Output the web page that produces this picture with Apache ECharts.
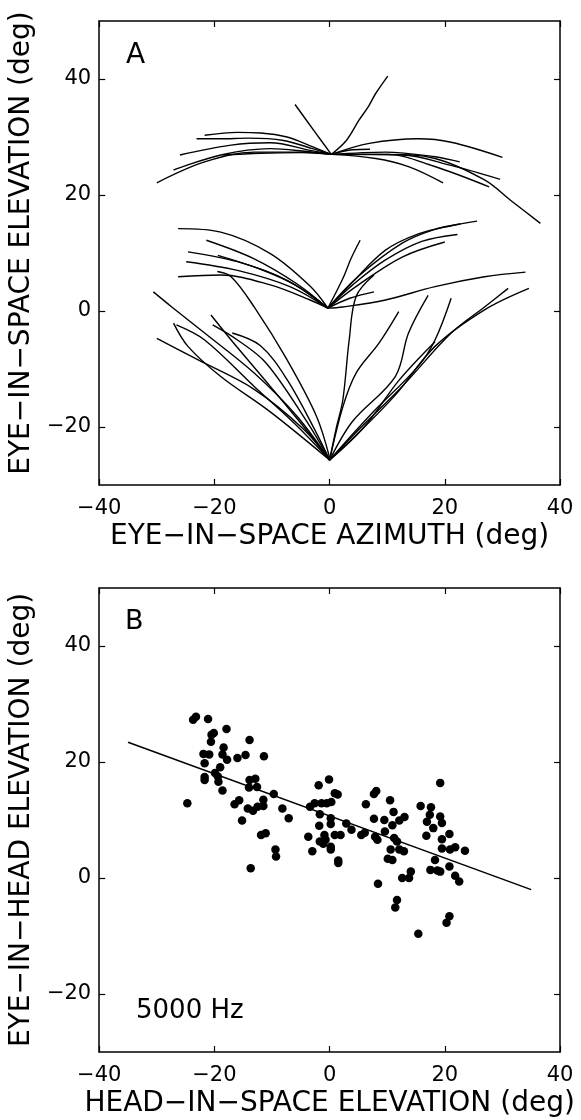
<!DOCTYPE html>
<html><head><meta charset="utf-8">
<script src="https://cdn.jsdelivr.net/npm/echarts@6/dist/echarts.min.js"></script>
<style>html,body{margin:0;padding:0;background:#fff}#c{width:581px;height:1120px}</style>
</head><body><div id="c"></div>
<script>
// ---- Panel A: eye-in-space trajectories (azimuth, elevation) ----
const curvesUpper = [
  [[0.3,27],[2.9,29.4],[5.1,32.9],[6.7,35.2],[8,37.5],[10.1,40.5]],
  [[0.3,27],[-2.5,30.8],[-6,35.6]],
  [[0.3,27],[-2.9,28.3],[-7.4,30],[-12,30.7],[-16,30.8],[-21.7,30.3]],
  [[0.3,27],[-3,28],[-8,29.4],[-14,29.8],[-19,29.7],[-23.1,29.7]],
  [[0.3,27],[-3.4,27.7],[-10.3,29],[-17.1,28.6],[-26,26.9]],
  [[0.3,27],[-4,27.5],[-10.3,28],[-18.9,26.9],[-27.1,24.3]],
  [[0.3,27],[-4.6,27.4],[-13.1,27.4],[-21.7,25.7],[-30,22.1]],
  [[0.3,27],[-5,27.3],[-12,27.2],[-18.6,26.9]],
  [[0.3,27],[6.9,28.9],[15.4,29.7],[21.1,29.1],[30,26.5]],
  [[0.3,27],[9.7,27.4],[18.3,26.6],[22.6,25.7]],
  [[0.3,27],[12.6,26.9],[21.1,25.1],[29.6,22.7]],
  [[0.3,27],[10,27],[18,25],[27.7,21.4]],
  [[0.3,27],[8,26.3],[13.7,24.9],[19.7,22.1]],
  [[0.3,27],[10,27],[18.3,26.3],[26.9,22.6],[31.4,19.1],[36.6,15.1]],
  [[0.3,27],[4,27.8],[7,27.9]]
];
const curvesMiddle = [
  [[-0.3,0.5],[-3.4,4.3],[-10.3,9.9],[-18.9,13.6],[-26.3,14.2]],
  [[-0.3,0.5],[-5.7,4.7],[-13.1,9],[-21.4,12.2]],
  [[-0.3,0.5],[-7.4,5.3],[-16,8.5],[-24.6,10.2]],
  [[-0.3,0.5],[-6.9,4.2],[-16,7],[-24.9,8.5]],
  [[-0.3,0.5],[-3.4,1.9],[-10.3,4.5],[-18.9,6.2],[-26.3,5.9]],
  [[-0.3,0.5],[-6,4.5],[-12,7.2],[-19.4,9.6]],
  [[-0.3,0.5],[4,5],[9.7,10.5],[15.4,13.3],[21.1,14.7],[25.6,15.5]],
  [[-0.3,0.5],[5,6],[12.6,11.7],[18,14],[22.7,15]],
  [[-0.3,0.5],[4,4.5],[9.7,8.8],[16,12],[22.2,13.2]],
  [[-0.3,0.5],[5,4.5],[12.6,9.3],[20,11.9]],
  [[-0.3,0.5],[2.3,0.7],[9.7,1.9],[18.3,4.2],[26.9,5.9],[34,6.7]],
  [[-0.3,0.5],[3.5,2.2],[7.7,3.3]],
  [[-0.3,0.5],[2.3,5.6],[3.7,9],[5.3,12.2]]
];
const curvesLower = [
  [[0,-25.7],[-5.7,-18.1],[-13.1,-10.7],[-21.7,-3.8],[-27.4,0.7],[-30.6,3.3]],
  [[0,-25.7],[-4.6,-20.3],[-13.1,-13.5],[-22.9,-8.4],[-30,-4.7]],
  [[0,-25.7],[-10.3,-17.4],[-18.9,-11.3],[-24.6,-6.1],[-27.1,-2.1]],
  [[0,-25.7],[-6,-19.5],[-13.1,-13],[-21.7,-5],[-26.6,-2.4]],
  [[0,-25.7],[-3.4,-21.3],[-10.3,-13],[-17.1,-5],[-20.6,-0.7]],
  [[0,-25.7],[-2.3,-21],[-7.4,-11.8],[-12,-6],[-16.9,-3.8]],
  [[0,-25.7],[-4,-19],[-11,-9],[-16,-5],[-20.3,-2.4]],
  [[0,-25.3],[-2.3,-18.1],[-7.4,-8.4],[-13.1,0.7],[-17.1,5.9],[-19.5,6.8]],
  [[0,-25.7],[2.3,-16.5],[4.6,-10.7],[8.6,-5.5],[12,-0.1]],
  [[0,-25.7],[4,-19],[11.4,-11.3],[13.7,-3.8],[17.1,2.7]],
  [[0,-25.7],[6.9,-18.1],[15.4,-9.5],[18.3,-5],[21.1,2.2]],
  [[0,-25.7],[5,-20.5],[12.6,-13],[21.1,-3.8],[26.9,0.7],[31,3.9]],
  [[0,-25.7],[4.5,-21.5],[11.4,-14.5],[18.3,-6.1],[26.9,0.2],[34.6,3.9]],
  [[0,-25.7],[6,-20],[12,-12],[18.3,-5.3]],
  [[0,-25.7],[1.2,-20],[2.3,-15.3],[3.4,-5],[4.6,2.5],[7.7,6.2]]
];

// ---- Panel B: head-in-space elevation vs eye-in-head elevation ----
const scatterB = [
  [-23.7,27.3],[-23.2,27.8],[-21.1,27.4],[-20.5,24.7],[-20.1,25],[-17.9,25.7],[-20.6,23.5],
  [-13.9,23.8],[-21.9,21.4],[-20.9,21.3],[-18.4,22.5],[-18.6,21.3],[-17.8,20.4],[-16,20.7],
  [-14.6,21.2],[-11.4,21],[-21.7,19.8],[-19,19.1],[-19.9,18.1],[-19.4,17.5],[-21.7,16.9],
  [-21.7,17.4],[-19.3,16.6],[-18.6,15.1],[-13.9,16.9],[-12.9,17.1],[-14,15.6],[-12.6,15.7],
  [-9.7,14.5],[-24.7,12.9],[-16.5,12.7],[-15.7,13.4],[-14.2,12],[-13.3,11.6],[-12.5,12.3],
  [-11.5,12.4],[-11.5,13.5],[-8.2,12],[-7.1,10.3],[-15.2,9.9],[-11.9,7.4],[-11.1,7.7],
  [-9.4,4.9],[-9.3,3.7],[-13.7,1.7],
  [-1.9,16],[-0.1,17],[0.9,14.6],[1.4,14.4],[-3.4,12.3],[-2.6,12.9],[-1.4,12.9],[-0.5,12.9],
  [0.3,13.1],[-1.7,11],[0.2,10.3],[0.2,9.3],[2.9,9.4],[-1.8,9],[3.8,8.3],[-3.7,7.1],
  [-0.9,7.4],[-0.7,6.6],[0.9,7.4],[1.9,7.4],[-1.7,6.3],[-1.1,5.9],[0.2,5.4],[0.2,4.9],
  [-3,4.6],[1.5,3],[1.5,2.6],
  [5.5,7.4],[6.1,7.8],[6.3,12.7],[7.7,14.5],[8.1,15],[7.7,10.2],[9.5,10],[10.5,13.4],
  [11.1,11.4],[10.9,9.1],[12.1,9.9],[13,10.5],[9.6,8],[7.9,7.1],[8.3,6.6],[11.2,6.9],
  [11.7,6.3],[10.6,4.9],[12.1,4.9],[12.9,4.6],[10.1,3.3],[10.9,3.1],[14.1,1.1],[13.8,0],
  [12.6,0],[8.4,-1],[11.7,-3.8],[11.4,-5.1],[15.4,-9.6],
  [15.8,12.4],[17.6,12.2],[17.4,10.9],[16.9,9.7],[19.2,10.6],[19.5,9.5],[18,8.6],[16.8,7.3],
  [19.2,16.4],[20.8,7.6],[19.5,6.7],[19.5,5.1],[20.9,4.9],[21.8,5.3],[23.5,4.7],[18.3,3.1],
  [17.5,1.4],[18.7,1.3],[19.2,1.1],[20.8,2],[21.8,0.4],[22.5,-0.6],[20.3,-7.7],[20.8,-6.6]
];
const fitLineB = [[-35,23.4],[35,-2.0]];

// ---- axes ----
const xTicks = [-40,-20,0,20,40];
const yTicks = [-20,0,20,40];
const xRange = [-40,40];
const yRange = [-30,50];
const titlesA = {x:'EYE\u2212IN\u2212SPACE AZIMUTH (deg)', y:'EYE\u2212IN\u2212SPACE ELEVATION (deg)'};
const titlesB = {x:'HEAD\u2212IN\u2212SPACE ELEVATION (deg)', y:'EYE\u2212IN\u2212HEAD ELEVATION (deg)'};

const FONT = '"DejaVu Sans", Arial, Helvetica, sans-serif';
const fmt = v => (v < 0 ? '\u2212' + Math.abs(v) : String(v));
const axisLine = {show:true, onZero:false, lineStyle:{color:'#000', width:1.5}};

function xAx(gi, pos, name, ticks) {
  const shown = pos === 'bottom';
  return {
    type:'value', gridIndex:gi, position:pos, min:xRange[0], max:xRange[1],
    axisLine, splitLine:{show:false},
    axisTick:{show:true, inside:true, length:6, customValues:ticks, lineStyle:{color:'#000', width:1.2}},
    axisLabel:{show:shown, customValues:ticks, formatter:fmt, color:'#000', fontFamily:FONT, fontSize:21, margin:13},
    name: shown ? name : '', nameLocation:'middle', nameGap:38,
    nameTextStyle:{color:'#000', fontFamily:FONT, fontSize:28}
  };
}
function yAx(gi, pos, name, ticks, shiftUp) {
  const shown = pos === 'left';
  return {
    type:'value', gridIndex:gi, position:pos, min:yRange[0], max:yRange[1],
    axisLine, splitLine:{show:false},
    axisTick:{show:true, inside:true, length:6, customValues:ticks, lineStyle:{color:'#000', width:1.2}},
    axisLabel:{show:shown, customValues:ticks, formatter:fmt, color:'#000', fontFamily:FONT, fontSize:21, margin:8},
    name: shown ? name : '', nameLocation:'middle', nameGap:50, nameRotate:90,
    nameTextStyle:{color:'#000', fontFamily:FONT, fontSize:28, padding:[0,0,0,shiftUp || 0]}
  };
}

const series = [];
[...curvesUpper, ...curvesMiddle, ...curvesLower].forEach(c => {
  series.push({type:'line', xAxisIndex:0, yAxisIndex:0, data:c, smooth:0.35, showSymbol:false,
    lineStyle:{color:'#000', width:1.4}, silent:true, animation:false});
});
series.push({type:'line', xAxisIndex:1, yAxisIndex:1, data:fitLineB, showSymbol:false,
  lineStyle:{color:'#000', width:1.5}, silent:true, animation:false});
series.push({type:'scatter', xAxisIndex:1, yAxisIndex:1, data:scatterB, symbol:'circle', symbolSize:8.5,
  itemStyle:{color:'#000', opacity:1}, silent:true, animation:false});

const chart = echarts.init(document.getElementById('c'), null, {renderer:'canvas'});
chart.setOption({
  backgroundColor:'#fff',
  animation:false,
  grid:[
    {left:96, top:21, width:464, height:464},
    {left:96, top:588, width:464, height:464}
  ],
  xAxis:[
    xAx(0,'bottom',titlesA.x,xTicks), xAx(1,'bottom',titlesB.x,xTicks),
    xAx(0,'top','',xTicks), xAx(1,'top','',xTicks)
  ],
  yAxis:[
    yAx(0,'left',titlesA.y,yTicks,20), yAx(1,'left',titlesB.y,yTicks,0),
    yAx(0,'right','',yTicks), yAx(1,'right','',yTicks)
  ],
  graphic:[
    {type:'text', left:126, top:42, style:{text:'A', font:'28px ' + FONT, fill:'#000'}},
    {type:'text', left:125, top:608, style:{text:'B', font:'27px ' + FONT, fill:'#000'}},
    {type:'text', left:136, top:998, style:{text:'5000 Hz', font:'26px ' + FONT, fill:'#000'}}
  ],
  series
});
</script></body></html>
